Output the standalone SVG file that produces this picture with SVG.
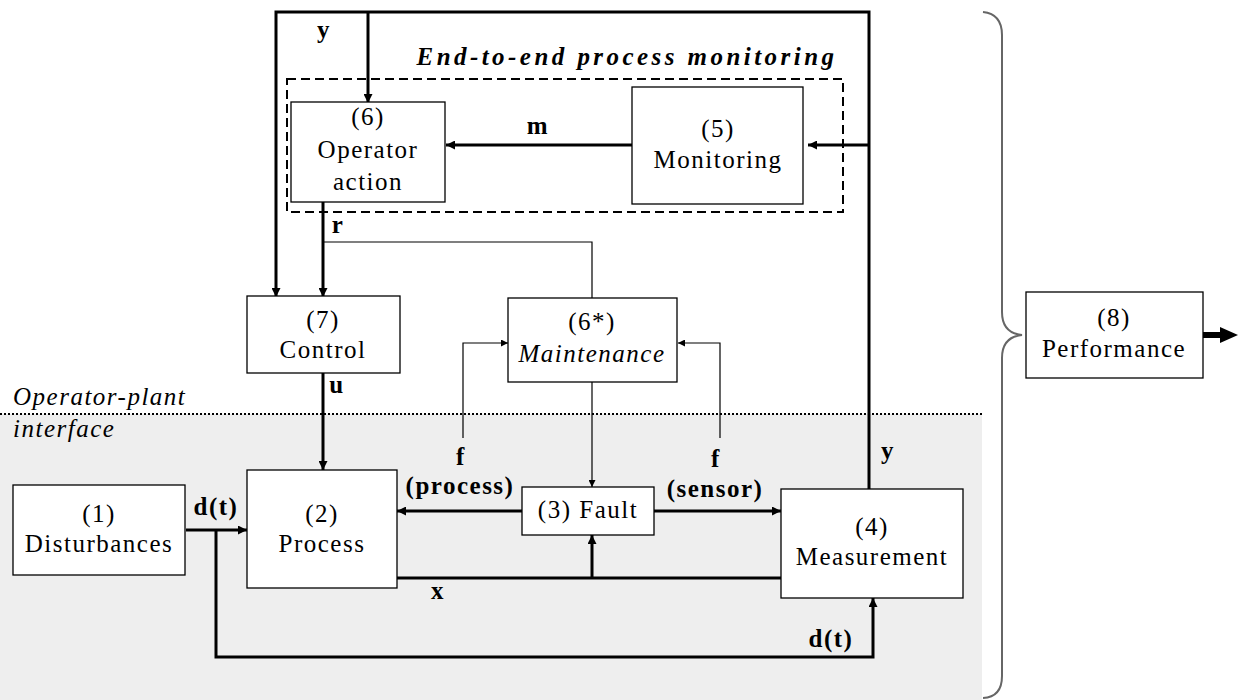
<svg xmlns="http://www.w3.org/2000/svg" width="1242" height="700" viewBox="0 0 1242 700">
<defs>
<style>
text{font-family:'Liberation Serif','DejaVu Serif',serif;font-size:25px;letter-spacing:1.5px;fill:#000;text-anchor:middle}
.b{font-weight:bold}
.i{font-style:italic}
.box{fill:#fff;stroke:#000;stroke-width:1.3}
.thick{fill:none;stroke:#000;stroke-width:3}
.thin{fill:none;stroke:#000;stroke-width:1.2}
</style>
<marker id="ah" viewBox="0 0 10 10" refX="10" refY="5" markerWidth="11" markerHeight="9" markerUnits="userSpaceOnUse" orient="auto"><path d="M0,0 L10,5 L0,10 z" fill="#000"/></marker>
<marker id="ahs" viewBox="0 0 10 10" refX="10" refY="5" markerWidth="9" markerHeight="7" markerUnits="userSpaceOnUse" orient="auto"><path d="M0,0 L10,5 L0,10 z" fill="#000"/></marker>
</defs>
<rect x="0" y="0" width="1242" height="700" fill="#fff"/>
<rect x="0" y="414" width="982" height="286" fill="#eeeeee"/>
<line x1="0" y1="414" x2="982" y2="414" stroke="#000" stroke-width="2" stroke-dasharray="2,2"/>
<text class="i" x="13" y="405" style="text-anchor:start">Operator-plant</text>
<text class="i" x="13" y="437" style="text-anchor:start">interface</text>
<g id="monitoring-region">
<rect x="287" y="79" width="556" height="133" fill="none" stroke="#000" stroke-width="2" stroke-dasharray="9,5"/>
<text class="b i" x="626" y="65" textLength="419" lengthAdjust="spacing">End-to-end process monitoring</text>
</g>
<g id="connectors">
<path class="thick" d="M869,489 L869,12 L276,12 L276,297" marker-end="url(#ah)"/>
<path class="thick" d="M368,12 L368,103" marker-end="url(#ah)"/>
<path class="thick" d="M869,145 L808,145" marker-end="url(#ah)"/>
<path class="thick" d="M632,145 L446,145" marker-end="url(#ah)"/>
<path class="thick" d="M323,202 L323,297" marker-end="url(#ah)"/>
<path class="thin" d="M323,242 L592,242 L592,298"/>
<path class="thick" d="M323,373 L323,470" marker-end="url(#ah)"/>
<path class="thin" d="M592,382 L592,487" marker-end="url(#ahs)"/>
<path class="thin" d="M463,438 L463,343 L508,343" marker-end="url(#ahs)"/>
<path class="thin" d="M720,438 L720,343 L678,343" marker-end="url(#ahs)"/>
<path class="thick" d="M522,511 L397,511" marker-end="url(#ah)"/>
<path class="thick" d="M654,511 L781,511" marker-end="url(#ah)"/>
<path class="thick" d="M397,578 L781,578"/>
<path class="thick" d="M592,578 L592,535" marker-end="url(#ah)"/>
<path class="thick" d="M186,530 L247,530" marker-end="url(#ah)"/>
<path class="thick" d="M216,530 L216,657 L873,657 L873,598" marker-end="url(#ah)"/>
<path d="M983,12 Q1002,14 1002,35 L1002,312 Q1002,333 1022,335 Q1002,337 1002,358 L1002,676 Q1002,697 983,698" fill="none" stroke="#666" stroke-width="2"/>
<path d="M1203,332 L1220,332 L1220,327 L1238,335 L1220,343 L1220,338 L1203,338 z" fill="#000"/>
<text class="b" x="324" y="38">y</text>
<text class="b" x="888" y="459">y</text>
<text class="b" x="538" y="134">m</text>
<text class="b" x="338" y="233">r</text>
<text class="b" x="337" y="393">u</text>
<text class="b" x="438" y="599">x</text>
<text class="b" x="216" y="515">d(t)</text>
<text class="b" x="831" y="647">d(t)</text>
<text class="b" x="461" y="465">f</text>
<text class="b" x="716" y="467">f</text>
<text class="b" x="460" y="494">(process)</text>
<text class="b" x="715" y="497">(sensor)</text>
</g>
<g id="n6">
<rect class="box" x="291" y="102" width="154" height="100"/>
<text x="368" y="125">(6)</text>
<text x="368" y="158">Operator</text>
<text x="368" y="190">action</text>
</g>
<g id="n5">
<rect class="box" x="632" y="87" width="171" height="117"/>
<text x="718" y="137">(5)</text>
<text x="718" y="168">Monitoring</text>
</g>
<g id="n7">
<rect class="box" x="247" y="296" width="153" height="77"/>
<text x="323" y="328">(7)</text>
<text x="323" y="358">Control</text>
</g>
<g id="n6s">
<rect class="box" x="508" y="298" width="169" height="84"/>
<text x="592" y="330">(6*)</text>
<text class="i" x="592" y="362">Maintenance</text>
</g>
<g id="n1">
<rect class="box" x="13" y="485" width="172" height="90"/>
<text x="99" y="522">(1)</text>
<text x="99" y="552">Disturbances</text>
</g>
<g id="n2">
<rect class="box" x="247" y="470" width="150" height="118"/>
<text x="322" y="522">(2)</text>
<text x="322" y="552">Process</text>
</g>
<g id="n3">
<rect class="box" x="522" y="487" width="132" height="48"/>
<text x="588" y="518">(3) Fault</text>
</g>
<g id="n4">
<rect class="box" x="781" y="489" width="182" height="109"/>
<text x="872" y="535">(4)</text>
<text x="872" y="565">Measurement</text>
</g>
<g id="n8">
<rect class="box" x="1026" y="292" width="177" height="86"/>
<text x="1114" y="326">(8)</text>
<text x="1114" y="357">Performance</text>
</g>
</svg>
